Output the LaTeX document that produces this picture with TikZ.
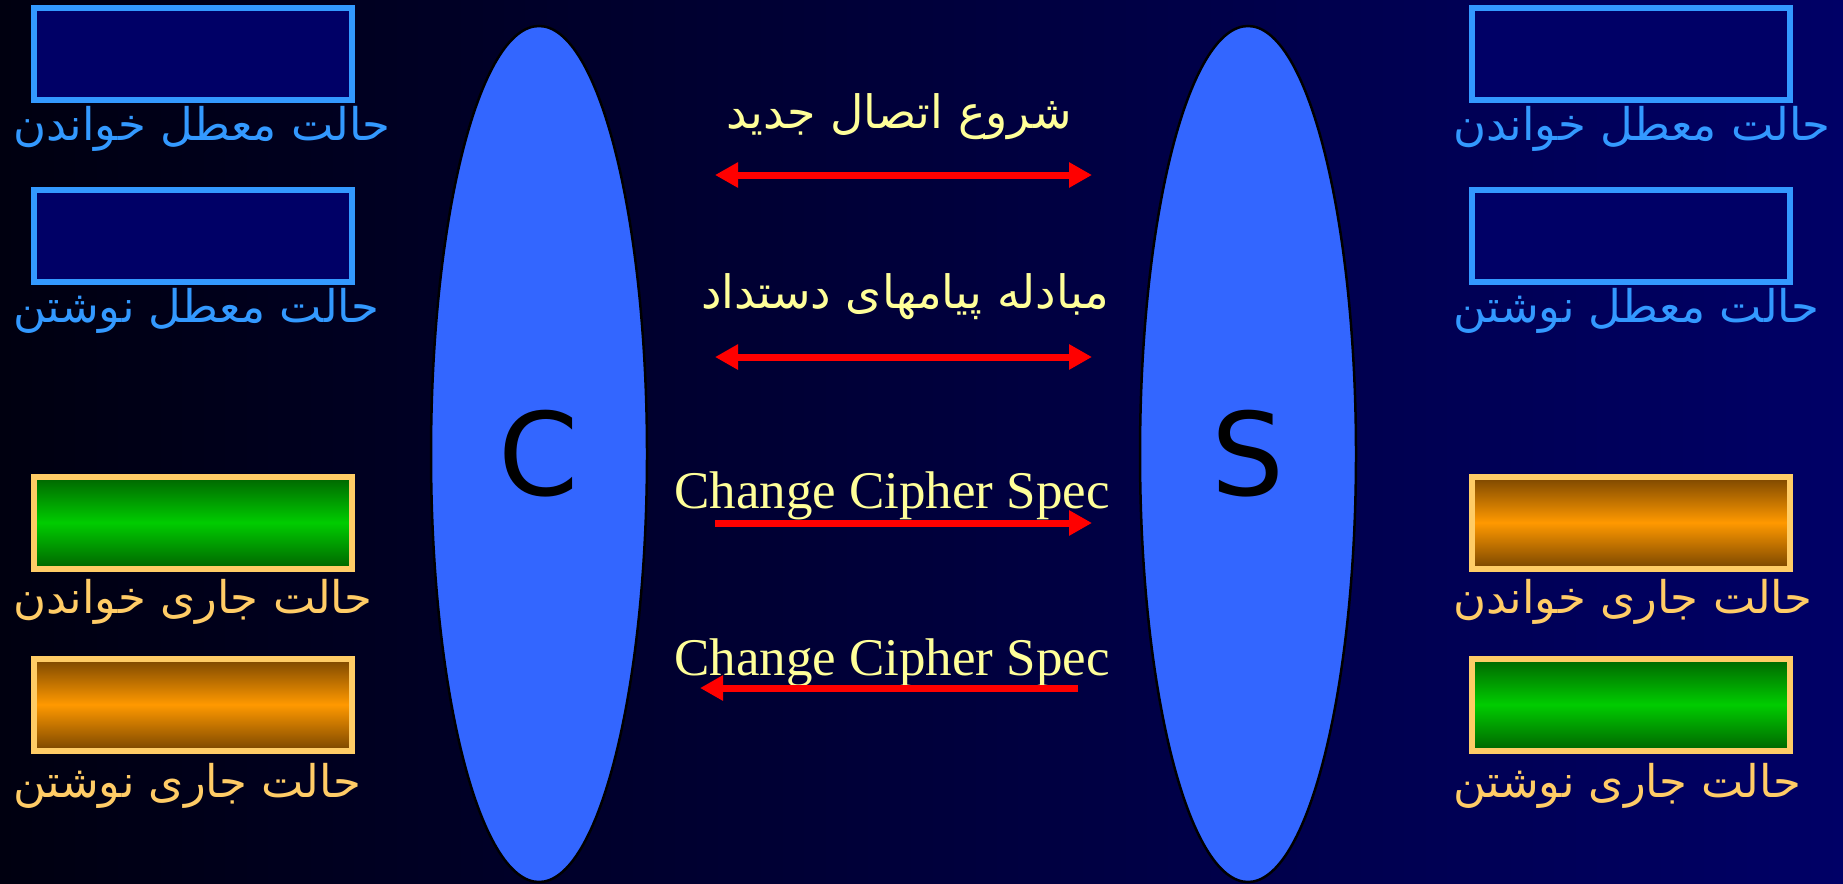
\documentclass[tikz,border=0pt]{standalone}
\usepackage{fontspec}
\setmainfont{Liberation Serif}
\newfontfamily\arabicfont[Script=Arabic]{DejaVu Sans}
\newfontfamily\dejavu{DejaVu Sans}
\TeXXeTstate=1
\usetikzlibrary{arrows.meta,shapes.geometric}
\definecolor{bgleft}{RGB}{0,0,16}
\definecolor{bgright}{RGB}{0,0,102}
\definecolor{navy}{RGB}{0,0,102}
\definecolor{lblue}{RGB}{51,153,255}
\definecolor{gold}{RGB}{255,204,102}
\definecolor{ltyellow}{RGB}{255,255,153}
\definecolor{ellblue}{RGB}{51,102,255}
\definecolor{dgreen}{RGB}{0,100,0}
\definecolor{bgreen}{RGB}{0,204,0}
\definecolor{dorange}{RGB}{122,70,0}
\definecolor{borange}{RGB}{255,153,0}
\begin{document}
\begin{tikzpicture}[x=1pt,y=-1pt,
  statebox/.style={rectangle, line width=6pt, minimum width=318pt, minimum height=92pt, inner sep=0pt},
  idlebox/.style={statebox, draw=lblue, fill=navy},
  greenbox/.style={statebox, draw=gold, top color=dgreen, bottom color=dgreen, middle color=bgreen},
  orangebox/.style={statebox, draw=gold, top color=dorange, bottom color=dorange, middle color=borange},
  arlabel/.style={anchor=base west, inner sep=0pt, font=\arabicfont\fontsize{45}{54}\selectfont},
  bluelabel/.style={arlabel, text=lblue},
  goldlabel/.style={arlabel, text=gold},
  midar/.style={anchor=base, inner sep=0pt, text=ltyellow, font=\arabicfont\fontsize{46}{54}\selectfont},
  midlat/.style={anchor=base, inner sep=0pt, text=ltyellow, font=\fontsize{53}{60}\selectfont},
  msg/.style={draw=red, line width=7pt, >={Triangle[length=23pt,width=24pt]}},
  party/.style={ellipse, draw=black, line width=2.5pt, fill=ellblue, minimum width=216pt, minimum height=856pt, inner sep=0pt, font=\dejavu\fontsize{115}{120}\selectfont}
]
\fill[left color=bgleft,right color=bgright] (0,0) rectangle (1843,883);
\useasboundingbox (0,0) rectangle (1843,883);

% parties
\node[party] (C) at (539,454) {C};
\node[party] (S) at (1248,454) {S};

% left states
\node[idlebox] (lr) at (193,54) {};
\node[bluelabel] (lrt) at (13,140) {\beginR حالت معطل خواندن\endR};
\node[idlebox] (lw) at (193,235.5) {};
\node[bluelabel] (lwt) at (13,322) {\beginR حالت معطل نوشتن\endR};
\node[greenbox] (lcr) at (193,522.5) {};
\node[goldlabel] (lcrt) at (13,613) {\beginR حالت جاری خواندن\endR};
\node[orangebox] (lcw) at (193,704.5) {};
\node[goldlabel] (lcwt) at (13,797) {\beginR حالت جاری نوشتن\endR};

% right states
\node[idlebox] (rr) at (1631,54) {};
\node[bluelabel] (rrt) at (1453,140) {\beginR حالت معطل خواندن\endR};
\node[idlebox] (rw) at (1631,235.5) {};
\node[bluelabel] (rwt) at (1453,322) {\beginR حالت معطل نوشتن\endR};
\node[orangebox] (rcr) at (1631,522.5) {};
\node[goldlabel] (rcrt) at (1453,613) {\beginR حالت جاری خواندن\endR};
\node[greenbox] (rcw) at (1631,704.5) {};
\node[goldlabel] (rcwt) at (1453,797) {\beginR حالت جاری نوشتن\endR};

% messages
\node[midar] (m1) at (899,128) {\beginR شروع اتصال جدید\endR};
\coordinate (a1l) at (715,175);
\coordinate (a1r) at (1092,175);
\draw[msg, <->] (a1l) -- (a1r);

\node[midar] (m2) at (905,308) {\beginR مبادله پیامهای دستداد\endR};
\coordinate (a2l) at (715,357);
\coordinate (a2r) at (1092,357);
\draw[msg, <->] (a2l) -- (a2r);

\node[midlat] (m3) at (892,508) {Change Cipher Spec};
\coordinate (a3l) at (715,523);
\coordinate (a3r) at (1092,523);
\draw[msg, ->] (a3l) -- (a3r);

\node[midlat] (m4) at (892,675) {Change Cipher Spec};
\coordinate (a4r) at (1078,688);
\coordinate (a4l) at (700,688);
\draw[msg, ->] (a4r) -- (a4l);
\end{tikzpicture}
\end{document}
